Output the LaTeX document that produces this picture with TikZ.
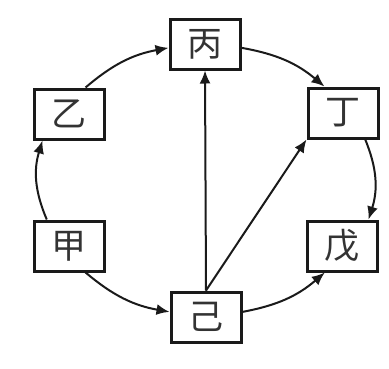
\documentclass[tikz,border=0pt]{standalone}
\usepackage{fontspec}
\newfontfamily\cjk{Noto Sans CJK SC}
\usetikzlibrary{arrows.meta,positioning}
\definecolor{ink}{HTML}{1A1A1A}
\definecolor{txt}{HTML}{333333}

\begin{document}
\begin{tikzpicture}[x=1pt,y=-1pt, every node/.style={font=\cjk\fontsize{35pt}{38pt}\selectfont,text=txt},
  box/.style={draw=ink,line width=3pt,fill=white,minimum width=70pt,minimum height=50pt,inner sep=0pt},
  arr/.style={-{Latex[length=13pt,width=11pt]},draw=ink,line width=2pt}]
  \useasboundingbox (0,0) rectangle (389,368);
  \node[box] (bing) at (205,44) {丙};
  \node[box] (yi) at (69,114) {乙};
  \node[box] (ding) at (343,113) {丁};
  \node[box] (jia) at (69,246) {甲};
  \node[box] (wu) at (342,246) {戊};
  \node[box] (ji) at (206,317) {己};
  \draw[arr] (jia.130) to[bend left=20] (yi.225);
  \draw[arr] (yi.58) to[bend left=15] (bing.186);
  \draw[arr] (bing.354) to[bend left=15] (ding.125);
  \draw[arr] (ding.310) to[bend left=20] (wu.45);
  \draw[arr] (jia.302) to[bend right=15] (ji.172);
  \draw[arr] (ji.8) to[bend right=15] (wu.237);
  \draw[arr] (ji.north) -- (bing.south);
  \draw[arr] (ji.north) -- (ding.south west);
\end{tikzpicture}
\end{document}
